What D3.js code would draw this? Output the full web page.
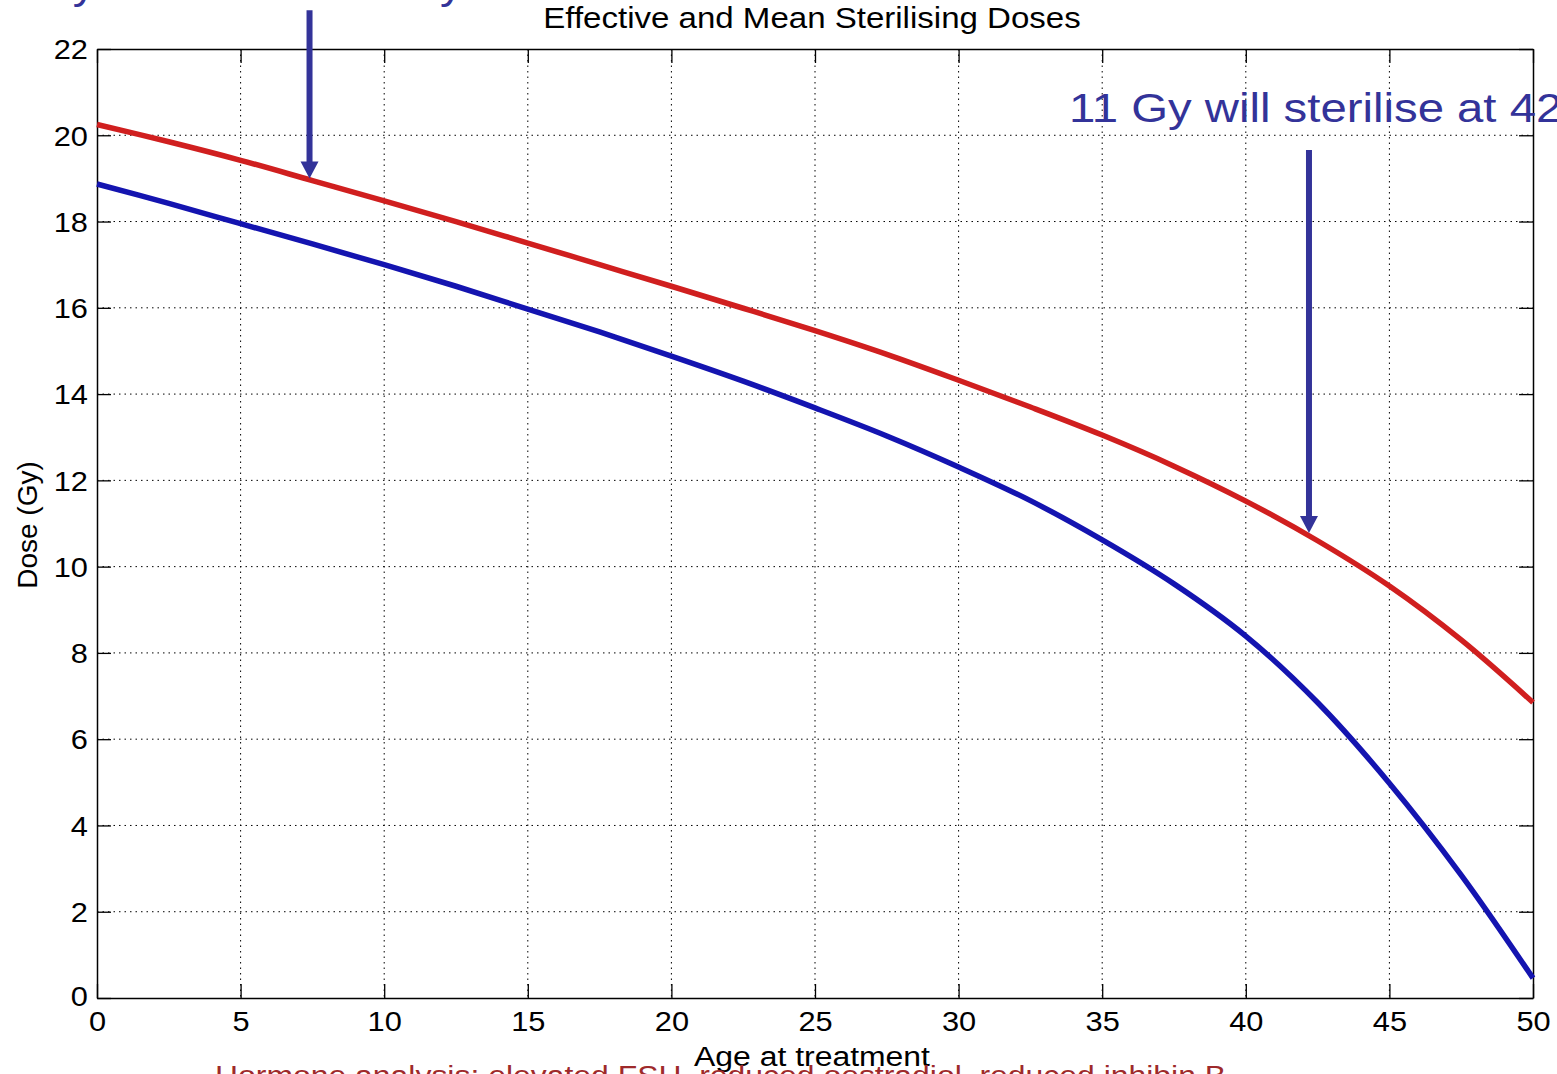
<!DOCTYPE html>
<html><head><meta charset="utf-8">
<script src="https://cdn.jsdelivr.net/npm/d3@7"></script>
<style>body{margin:0;background:#fff;overflow:hidden}svg{display:block}</style>
</head><body>
<svg id="c" width="1557" height="1074"></svg>
<script>
const ages = [0,2.5,5,7.5,10,12.5,15,17.5,20,22.5,25,27.5,30,32.5,35,37.5,40,42.5,45,47.5,50];
const meanDose = [20.25,19.85,19.42,18.95,18.48,18.0,17.5,17.0,16.5,15.99,15.47,14.92,14.32,13.7,13.05,12.33,11.52,10.6,9.55,8.3,6.85];
const effDose = [18.87,18.42,17.95,17.48,17.0,16.5,15.97,15.44,14.88,14.3,13.68,13.03,12.31,11.53,10.62,9.6,8.39,6.85,4.98,2.85,0.46];
const xTicks = [0,5,10,15,20,25,30,35,40,45,50];
const yTicks = [0,2,4,6,8,10,12,14,16,18,20,22];
const arrowAges = [7.4, 42.2];
const arrowFrom = [22.9, 19.66];
const arrowTo = [19.0, 10.78];

const svg = d3.select("#c");
const L=97,R=1533,T=49,B=998;
const SX = 1.14;
const x = d3.scaleLinear().domain([0,50]).range([L,R]);
const y = d3.scaleLinear().domain([0,22]).range([B,T]);
const font = "Arial, 'Liberation Sans', sans-serif";

function stext(px,py,size,str,anchor,fill){
  return svg.append("text").attr("transform",`translate(${px},${py}) scale(${SX},1)`)
   .attr("text-anchor",anchor||"start").attr("font-family",font).attr("font-size",size)
   .attr("fill",fill||"#000").text(str);
}

// grid
const g = svg.append("g");
g.selectAll("line.gx").data(xTicks.slice(1,-1)).join("line")
 .attr("x1",d=>x(d)).attr("x2",d=>x(d)).attr("y1",T).attr("y2",B)
 .attr("stroke","#000").attr("stroke-width",1).attr("stroke-dasharray","1.5,4");
g.selectAll("line.gy").data(yTicks.slice(1,-1)).join("line")
 .attr("y1",d=>y(d)).attr("y2",d=>y(d)).attr("x1",L).attr("x2",R)
 .attr("stroke","#000").attr("stroke-width",1).attr("stroke-dasharray","1.5,4");

// axes with inward ticks
const axB = svg.append("g").attr("transform",`translate(0,${B})`)
 .call(d3.axisBottom(x).tickValues(xTicks).tickSizeInner(-14).tickSizeOuter(0).tickPadding(24));
const axT = svg.append("g").attr("transform",`translate(0,${T})`)
 .call(d3.axisTop(x).tickValues(xTicks).tickSizeInner(-14).tickSizeOuter(0).tickFormat(""));
const axL = svg.append("g").attr("transform",`translate(${L},0)`)
 .call(d3.axisLeft(y).tickValues(yTicks).tickSizeInner(-14).tickSizeOuter(0).tickPadding(8));
const axR = svg.append("g").attr("transform",`translate(${R},0)`)
 .call(d3.axisRight(y).tickValues(yTicks).tickSizeInner(-14).tickSizeOuter(0).tickFormat(""));
[axB,axT,axL,axR].forEach(a=>{
  a.select(".domain").attr("stroke","#000").attr("stroke-width",1.5);
  a.selectAll(".tick line").attr("stroke","#000").attr("stroke-width",1.3);
  a.selectAll("text").attr("font-family",font).attr("font-size",27).attr("fill","#000")
   .attr("transform",`scale(${SX},1)`);
});
axB.selectAll(".tick text").attr("dy","0.35em");
axL.selectAll(".tick text").attr("dy","0.36em");
axL.selectAll(".tick").filter(d=>d===0).select("text").attr("dy","0.28em");

// lines
const line = (arr)=>d3.line().x((d,i)=>x(ages[i])).y(d=>y(d)).curve(d3.curveCatmullRom)(arr);
svg.append("path").attr("d",line(meanDose)).attr("fill","none").attr("stroke","#d01f1f").attr("stroke-width",5.5);
svg.append("path").attr("d",line(effDose)).attr("fill","none").attr("stroke","#1414b0").attr("stroke-width",5.5);

// arrows
const ac = "#333399";
arrowAges.forEach((a,i)=>{
  const ax=x(a), y0=y(arrowFrom[i]), y1=y(arrowTo[i]);
  svg.append("line").attr("x1",ax).attr("x2",ax).attr("y1",y0).attr("y2",y1-14)
   .attr("stroke",ac).attr("stroke-width",6);
  svg.append("path").attr("d",`M${ax-9},${y1-17}L${ax+9},${y1-17}L${ax},${y1}Z`).attr("fill",ac);
});

// title & labels
stext(812,28,29,"Effective and Mean Sterilising Doses","middle");
svg.append("text").attr("transform","translate(37,525) rotate(-90)").attr("text-anchor","middle")
 .attr("font-family",font).attr("font-size",28).text("Dose (Gy)");
stext(812,1066,28,"Age at treatment","middle");
stext(215,1085,28,"Hormone analysis: elevated FSH, reduced oestradiol, reduced inhibin B","start","#9e2a2b");

// annotations
stext(1069,122,41.5,"11 Gy will sterilise at 42 years","start",ac);
stext(-26,-1,40,"19 Gy will sterilise at 7 years","start",ac);
</script>
</body></html>
